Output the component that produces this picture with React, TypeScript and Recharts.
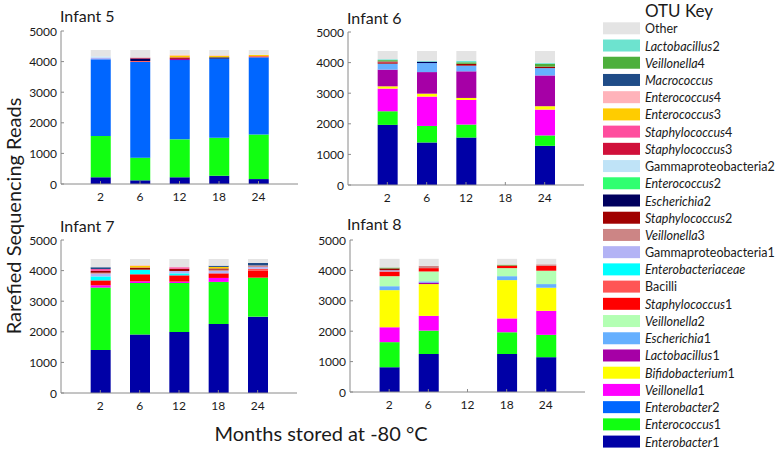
import React from "react";
import { BarChart, Bar, XAxis, YAxis } from "recharts";

const months = ["2", "6", "12", "18", "24"];
const yTicks = [0, 1000, 2000, 3000, 4000, 5000];

// stack order, bottom to top
const otuKeys = [
  "Enterobacter1", "Enterococcus1", "Enterobacter2", "Veillonella1", "Bifidobacterium1",
  "Lactobacillus1", "Escherichia1", "Veillonella2", "Staphylococcus1", "Bacilli",
  "Enterobacteriaceae", "Gammaproteobacteria1", "Veillonella3", "Staphylococcus2", "Escherichia2",
  "Enterococcus2", "Gammaproteobacteria2", "Staphylococcus3", "Staphylococcus4", "Enterococcus3",
  "Enterococcus4", "Macrococcus", "Veillonella4", "Lactobacillus2", "Other",
];
const otuColors = [
  "#0000A6", "#11FF11", "#0066FF", "#FF00FF", "#FFFF00",
  "#A600A6", "#66B0FF", "#B3FFB3", "#FF0000", "#FF5555",
  "#00FFFF", "#B3B3F5", "#CC8585", "#A00000", "#00005E",
  "#30FF70", "#BFE3F7", "#D0103A", "#FF4D9E", "#FFCC00",
  "#FFB3BA", "#1F4C87", "#4DAF3C", "#6DE3CF", "#E4E4E4",
];
const nonItalic = ["Other", "Gammaproteobacteria1", "Gammaproteobacteria2", "Bacilli"];

const infant5: Record<string, number[]> = {
  Enterobacter1: [220, 120, 220, 270, 160],
  Enterococcus1: [1350, 740, 1240, 1240, 1460],
  Enterobacter2: [2505, 3130, 2590, 2585, 2520],
  Lactobacillus1: [0, 0, 40, 0, 0],
  Bacilli: [0, 30, 0, 0, 40],
  Gammaproteobacteria1: [55, 0, 0, 0, 0],
  Staphylococcus2: [0, 0, 30, 0, 0],
  Escherichia2: [0, 80, 0, 45, 0],
  Gammaproteobacteria2: [40, 0, 0, 0, 0],
  Staphylococcus3: [0, 30, 20, 0, 0],
  Enterococcus3: [0, 0, 60, 50, 40],
  Enterococcus4: [0, 0, 30, 20, 0],
  Other: [210, 250, 150, 170, 160],
};

const infant6: Record<string, number[]> = {
  Enterobacter1: [1965, 1390, 1550, 0, 1280],
  Enterococcus1: [445, 540, 425, 0, 340],
  Veillonella1: [740, 960, 805, 0, 845],
  Bifidobacterium1: [75, 95, 65, 0, 110],
  Lactobacillus1: [545, 705, 870, 0, 1005],
  Escherichia1: [195, 295, 185, 0, 240],
  Staphylococcus2: [40, 0, 60, 0, 50],
  Escherichia2: [0, 45, 0, 0, 0],
  Staphylococcus3: [30, 0, 0, 0, 0],
  Veillonella4: [45, 0, 50, 0, 90],
  Lactobacillus2: [30, 30, 50, 0, 30],
  Other: [270, 320, 320, 0, 390],
};

const infant7: Record<string, number[]> = {
  Enterobacter1: [1405, 1910, 1995, 2255, 2495],
  Enterococcus1: [2040, 1685, 1600, 1375, 1275],
  Veillonella1: [75, 55, 45, 130, 0],
  Staphylococcus1: [160, 230, 205, 150, 220],
  Bacilli: [0, 0, 0, 0, 70],
  Enterobacteriaceae: [130, 150, 65, 0, 0],
  Gammaproteobacteria1: [90, 0, 75, 80, 60],
  Veillonella3: [30, 0, 0, 40, 50],
  Staphylococcus2: [60, 70, 75, 40, 0],
  Staphylococcus4: [60, 0, 50, 0, 0],
  Enterococcus3: [0, 60, 0, 50, 0],
  Enterococcus4: [0, 20, 0, 0, 0],
  Macrococcus: [60, 0, 0, 40, 80],
  Other: [270, 200, 270, 220, 130],
};

const infant8: Record<string, number[]> = {
  Enterobacter1: [815, 1250, 0, 1250, 1145],
  Enterococcus1: [825, 770, 0, 715, 735],
  Veillonella1: [490, 485, 0, 455, 790],
  Bifidobacterium1: [1220, 1045, 0, 1260, 760],
  Lactobacillus1: [0, 50, 0, 0, 0],
  Escherichia1: [130, 40, 0, 130, 120],
  Veillonella2: [330, 325, 0, 265, 440],
  Staphylococcus1: [155, 110, 0, 85, 160],
  Gammaproteobacteria1: [40, 0, 0, 0, 0],
  Veillonella3: [0, 75, 0, 0, 50],
  Staphylococcus2: [60, 0, 0, 0, 0],
  Veillonella4: [30, 0, 0, 30, 0],
  Other: [285, 230, 0, 190, 180],
};

const FONT = "Lato, 'Open Sans', sans-serif";
const AXIS = "#8a8a8a";
const TXT = "#1a1a1a";

function buildRows(src: Record<string, number[]>) {
  return months.map((m, i) => {
    const row: Record<string, number | string> = { month: m };
    otuKeys.forEach((k) => {
      row[k] = src[k] ? src[k][i] : 0;
    });
    return row;
  });
}

const BottomTick = (p: any) => (
  <g>
    <line x1={p.x} x2={p.x} y1={p.y} y2={p.y - 3} stroke={AXIS} />
    <text x={p.x} y={p.y + 12.5} textAnchor="middle" dominantBaseline="central"
      fontFamily={FONT} fontSize={12} fill={TXT}>{p.payload.value}</text>
  </g>
);
const TopTick = (p: any) => (
  <line x1={p.x} x2={p.x} y1={p.y} y2={p.y + 3} stroke={AXIS} />
);
const LeftTick = (p: any) => (
  <g>
    <line x1={p.x} x2={p.x + 3} y1={p.y} y2={p.y} stroke={AXIS} />
    <text x={p.x - 4} y={p.y} textAnchor="end" dominantBaseline="central"
      fontFamily={FONT} fontSize={12} fill={TXT}>{p.payload.value}</text>
  </g>
);
const RightTick = (p: any) => (
  <line x1={p.x} x2={p.x - 3} y1={p.y} y2={p.y} stroke={AXIS} />
);

type Rect = { left: number; top: number; right: number; bottom: number };

function Panel({ data, plot }: { data: Record<string, number[]>; plot: Rect }) {
  const W = plot.right - plot.left;
  const H = plot.bottom - plot.top;
  const pad = W / 12;
  const rows = buildRows(data);
  return (
    <div style={{ position: "absolute", left: plot.left - 45, top: plot.top - 15 }}>
      <BarChart width={W + 55} height={H + 40} data={rows}
        margin={{ top: 15, right: 10, bottom: 0, left: 0 }} barSize={20}>
        <XAxis xAxisId="b" dataKey="month" height={25} padding={{ left: pad, right: pad }}
          axisLine={{ stroke: AXIS }} tickLine={false} tickSize={0} tickMargin={0}
          interval={0} tick={(p: any) => <BottomTick {...p} />} />
        <XAxis xAxisId="t" dataKey="month" orientation="top" height={0}
          padding={{ left: pad, right: pad }} axisLine={{ stroke: AXIS }} tickLine={false}
          tickSize={0} tickMargin={0} interval={0} tick={(p: any) => <TopTick {...p} />} />
        <YAxis yAxisId="l" width={45} domain={[0, 5000]} ticks={yTicks} interval={0}
          axisLine={{ stroke: AXIS }} tickLine={false} tickSize={0} tickMargin={0}
          tick={(p: any) => <LeftTick {...p} />} />
        <YAxis yAxisId="r" orientation="right" width={0} domain={[0, 5000]} ticks={yTicks}
          interval={0} axisLine={{ stroke: AXIS }} tickLine={false} tickSize={0} tickMargin={0}
          tick={(p: any) => <RightTick {...p} />} />
        {otuKeys.map((k, i) => (
          <Bar key={k} dataKey={k} stackId="s" xAxisId="b" yAxisId="l"
            fill={otuColors[i]} isAnimationActive={false} />
        ))}
      </BarChart>
    </div>
  );
}

function LegendLabel({ name, x, y }: { name: string; x: number; y: number }) {
  const m = name.match(/^(.*?)(\d*)$/);
  const italic = !nonItalic.includes(name);
  return (
    <text x={x} y={y} dominantBaseline="central" fontFamily={FONT} fontSize={12.5} fill={TXT}>
      {italic && m ? (
        <>
          <tspan fontStyle="italic">{m[1]}</tspan>
          {m[2] ? <tspan>{m[2]}</tspan> : null}
        </>
      ) : name}
    </text>
  );
}

export default function App() {
  const legendItems = [...otuKeys].reverse();
  const legendColors = [...otuColors].reverse();
  return (
    <div style={{ position: "absolute", left: 0, top: 0, width: 778, height: 450, background: "#fff", overflow: "hidden" }}>
      <svg width={778} height={450} style={{ position: "absolute", left: 0, top: 0 }}>
        <text x={60} y={15} dominantBaseline="central" fontFamily={FONT} fontSize={16} fill={TXT}>Infant 5</text>
        <text x={347} y={17} dominantBaseline="central" fontFamily={FONT} fontSize={16} fill={TXT}>Infant 6</text>
        <text x={60} y={225} dominantBaseline="central" fontFamily={FONT} fontSize={16} fill={TXT}>Infant 7</text>
        <text x={347} y={223.5} dominantBaseline="central" fontFamily={FONT} fontSize={16} fill={TXT}>Infant 8</text>
        <g transform="translate(21,216) rotate(-90)">
          <text x={0} y={0} textAnchor="middle" fontFamily={FONT} fontSize={20} fill={TXT}>Rarefied Sequencing Reads</text>
        </g>
        <text x={321} y={433} textAnchor="middle" dominantBaseline="central" fontFamily={FONT} fontSize={20} fill={TXT}>Months stored at -80 °C</text>
        <text x={645} y={10} dominantBaseline="central" fontFamily={FONT} fontSize={17} fill={TXT}>OTU Key</text>
        {legendItems.map((k, i) => (
          <g key={k}>
            <rect x={603} y={28.3 + 17.22 * i - 6} width={37} height={12} fill={legendColors[i]} />
            <LegendLabel name={k} x={645} y={28.3 + 17.22 * i} />
          </g>
        ))}
      </svg>
      <Panel data={infant5} plot={{ left: 61, top: 31, right: 298, bottom: 184 }} />
      <Panel data={infant6} plot={{ left: 348, top: 32, right: 584, bottom: 185 }} />
      <Panel data={infant7} plot={{ left: 61, top: 240, right: 297, bottom: 393 }} />
      <Panel data={infant8} plot={{ left: 350, top: 240, right: 585, bottom: 392 }} />
    </div>
  );
}
